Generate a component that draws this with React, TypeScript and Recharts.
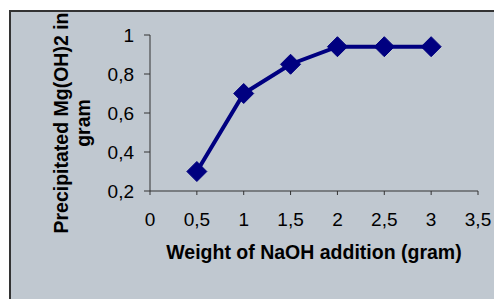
import { LineChart, Line, XAxis, YAxis } from 'recharts';

const naohWeight = [0.5, 1, 1.5, 2, 2.5, 3];
const precipitated = [0.3, 0.7, 0.85, 0.94, 0.94, 0.94];
const xTicks = [0, 0.5, 1, 1.5, 2, 2.5, 3, 3.5];
const yTicks = [0.2, 0.4, 0.6, 0.8, 1];

const xTitle = 'Weight of NaOH addition (gram)';
const yTitleLines = ['Precipitated Mg(OH)2 in', 'gram'];

const chartData = naohWeight.map((w, i) => ({ w, v: precipitated[i] }));

const FONT = '"Liberation Sans", Arial, sans-serif';
const NAVY = '#000080';
const AXIS = '#333333';

const fmt = (v: number) => String(v).replace('.', ',');

function Diamond(props: any) {
  const { cx, cy } = props;
  if (cx == null || cy == null) return null;
  const r = 10;
  return (
    <polygon
      points={`${cx},${cy - r} ${cx + r},${cy} ${cx},${cy + r} ${cx - r},${cy}`}
      fill={NAVY}
      stroke={NAVY}
      strokeWidth={1}
    />
  );
}

function XTitle(props: any) {
  const { x, y, width } = props.viewBox;
  return (
    <text
      x={x + width / 2}
      y={y + 68}
      textAnchor="middle"
      fontFamily={FONT}
      fontWeight="bold"
      fontSize={19.5}
      fill="#000"
    >
      {xTitle}
    </text>
  );
}

function YTitle() {
  const cy = 111;
  const baselines = [57, 79];
  return (
    <g>
      {yTitleLines.map((line, i) => (
        <text
          key={line}
          x={baselines[i]}
          y={cy}
          transform={`rotate(-90, ${baselines[i]}, ${cy})`}
          textAnchor="middle"
          fontFamily={FONT}
          fontWeight="bold"
          fontSize={19.5}
          fill="#000"
        >
          {line}
        </text>
      ))}
    </g>
  );
}

export default function App() {
  return (
    <div style={{ position: 'absolute', left: 0, top: 0, width: 494, height: 299, background: '#fff' }}>
      <div
        style={{
          position: 'absolute',
          left: 9,
          top: 10,
          width: 485,
          height: 289,
          boxSizing: 'border-box',
          background: '#C0C8D0',
          borderTop: '2px solid #333',
          borderLeft: '2px solid #333',
          overflow: 'hidden',
        }}
      >
        <LineChart
          width={483}
          height={287}
          data={chartData}
          margin={{ top: 23, right: 16, left: 0, bottom: 38 }}
        >
          <XAxis
            dataKey="w"
            type="number"
            domain={[0, 3.5]}
            ticks={xTicks}
            tickFormatter={fmt}
            height={70}
            tickSize={4}
            tickMargin={18}
            stroke={AXIS}
            tick={{ fill: '#000', fontSize: 19, fontFamily: FONT }}
            label={{ content: XTitle }}
          />
          <YAxis
            type="number"
            domain={[0.2, 1]}
            ticks={yTicks}
            tickFormatter={fmt}
            width={139}
            tickSize={6}
            tickMargin={10}
            stroke={AXIS}
            tick={{ fill: '#000', fontSize: 19, fontFamily: FONT }}
            label={{ content: YTitle }}
          />
          <Line
            dataKey="v"
            stroke={NAVY}
            strokeWidth={4}
            dot={<Diamond />}
            activeDot={false}
            isAnimationActive={false}
          />
        </LineChart>
      </div>
    </div>
  );
}
